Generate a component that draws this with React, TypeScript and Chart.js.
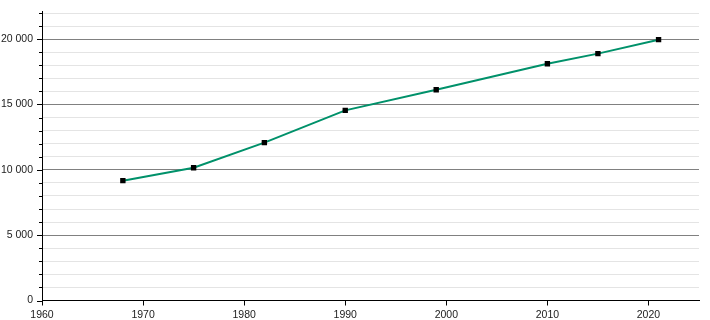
import React, { useEffect, useRef } from "react";
import { Chart, registerables } from "chart.js";

Chart.register(...registerables);

const years = [1968, 1975, 1982, 1990, 1999, 2010, 2015, 2021];
const population = [9170, 10160, 12080, 14550, 16130, 18120, 18890, 19960];
const xTickYears = [1960, 1970, 1980, 1990, 2000, 2010, 2020];

const fmt = (v: number) => String(v).replace(/\B(?=(\d{3})+(?!\d))/g, " ");

const yTickMarks = {
  id: "yTickMarks",
  afterDraw(chart: any) {
    const y = chart.scales.y;
    const ctx = chart.ctx;
    const left = chart.chartArea.left;
    ctx.save();
    ctx.strokeStyle = "#000";
    ctx.lineWidth = 1;
    for (const t of y.ticks) {
      const py = Math.round(y.getPixelForValue(t.value)) + 0.5;
      const len = t.value % 5000 === 0 ? 5 : 3;
      ctx.beginPath();
      ctx.moveTo(left - len, py);
      ctx.lineTo(left, py);
      ctx.stroke();
    }
    ctx.beginPath();
    ctx.moveTo(left + 0.5, chart.chartArea.top - 2);
    ctx.lineTo(left + 0.5, chart.chartArea.top + 1);
    ctx.stroke();
    ctx.restore();
  },
};

export default function App() {
  const ref = useRef<HTMLCanvasElement>(null);
  useEffect(() => {
    document.body.style.margin = "0";
    const chart = new Chart(ref.current!, {
      type: "line",
      data: {
        datasets: [
          {
            data: years.map((x, i) => ({ x, y: population[i] })),
            borderColor: "#00916a",
            borderWidth: 2,
            pointStyle: "rect",
            pointRadius: 3.8,
            pointBackgroundColor: "#000",
            pointBorderColor: "#000",
            pointBorderWidth: 0,
            tension: 0,
          },
        ],
      },
      options: {
        animation: false,
        responsive: false,
        layout: { padding: { top: 13, right: 11, left: 0, bottom: 0 } },
        plugins: { legend: { display: false }, tooltip: { enabled: false } },
        scales: {
          x: {
            type: "linear",
            min: 1960,
            max: 2025,
            afterBuildTicks: (s: any) => {
              s.ticks = xTickYears.map((v) => ({ value: v }));
            },
            afterFit: (s: any) => {
              s.height = 19.5;
            },
            ticks: {
              callback: (v: any) => String(v),
              font: { family: "Liberation Sans, Arial, sans-serif", size: 10.5 },
              color: "#222",
              padding: 3,
              maxRotation: 0,
            },
            grid: {
              drawOnChartArea: false,
              drawTicks: true,
              tickLength: 5,
              tickColor: "#000",
              tickWidth: 1,
            },
            border: { display: true, color: "#000", width: 1 },
          },
          y: {
            min: 0,
            max: 22000,
            afterFit: (s: any) => {
              s.width = 42;
              s.paddingTop = 0;
              s.paddingBottom = 0;
            },
            ticks: {
              stepSize: 1000,
              callback: (v: any) => (Number(v) % 5000 === 0 ? fmt(Number(v)) : ""),
              font: { family: "Liberation Sans, Arial, sans-serif", size: 10.5 },
              color: "#222",
              padding: 9,
              autoSkip: false,
            },
            grid: {
              drawTicks: false,
              color: (c: any) =>
                c.tick && c.tick.value % 5000 === 0 ? "#808080" : "#e4e4e4",
              lineWidth: 1,
            },
            border: { display: true, color: "#000", width: 1 },
          },
        },
      },
      plugins: [yTickMarks],
    });
    return () => chart.destroy();
  }, []);
  return (
    <div style={{ width: 710, height: 320 }}>
      <canvas ref={ref} width={710} height={320} />
    </div>
  );
}
